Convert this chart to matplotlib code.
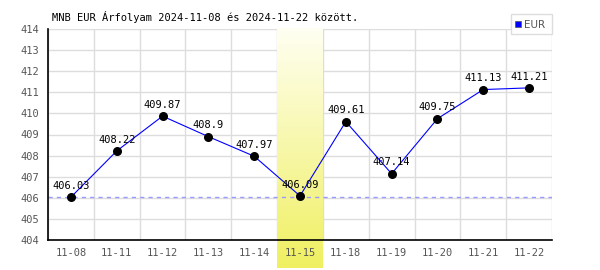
import numpy as np
import matplotlib.pyplot as plt
from matplotlib.patches import Rectangle

# =========================
# DATA
# =========================
dates = ["11-08", "11-11", "11-12", "11-13", "11-14", "11-15",
         "11-18", "11-19", "11-20", "11-21", "11-22"]
rates = [406.03, 408.22, 409.87, 408.9, 407.97, 406.09,
         409.61, 407.14, 409.75, 411.13, 411.21]
rate_labels = ["406.03", "408.22", "409.87", "408.9", "407.97", "406.09",
               "409.61", "407.14", "409.75", "411.13", "411.21"]
highlight_date = "11-15"
title = "MNB EUR Árfolyam 2024-11-08 és 2024-11-22 között."

plt.rcParams["font.family"] = ["DejaVu Sans Mono"]

fig = plt.figure(figsize=(6, 2.7), dpi=100)
ax = fig.add_axes([48 / 600, 1 - 240 / 270, 504 / 600, 211 / 270])

x = np.arange(len(dates))

# grid
for b in np.arange(-0.5, len(dates) + 0.5, 1):
    ax.axvline(b, color="#dddddd", lw=1, zorder=1)
for yv in range(405, 415):
    ax.axhline(yv, color="#dddddd", lw=1, zorder=1)

# highlighted column with vertical gradient, running below the axis
hi = dates.index(highlight_date)
grad = np.linspace(0, 1, 256).reshape(-1, 1, 1)
top_c = np.array([1.0, 1.0, 0.95]).reshape(1, 1, 3)
bot_c = np.array([0.94, 0.94, 0.38]).reshape(1, 1, 3)
img = top_c + (bot_c - top_c) * grad
ax.imshow(img, extent=(hi - 0.5, hi + 0.5, 404 - 28 / 21.1, 414),
          aspect="auto", origin="upper", zorder=1.5, clip_on=False)
ax.set_xlim(-0.5, len(dates) - 0.5)
ax.set_ylim(404, 414)

ax.axhline(rates[0], color="#9999ff", lw=1, ls=(0, (3, 3)), zorder=2)

ax.plot(x, rates, color="blue", lw=0.8, zorder=3)
ax.scatter(x, rates, s=30, color="black", zorder=4)
for xi, yi, lab in zip(x, rates, rate_labels):
    ax.text(xi, yi + 0.3, lab, ha="center", va="bottom", fontsize=7.5,
            color="black", zorder=5)

for side in ["top", "right"]:
    ax.spines[side].set_visible(False)
ax.spines["left"].set_linewidth(1.2)
ax.spines["bottom"].set_linewidth(1.2)
ax.spines["left"].set_zorder(6)
ax.spines["bottom"].set_zorder(6)

ax.set_xticks(x)
ax.set_xticklabels(dates)
ax.set_yticks(range(404, 415))
ax.tick_params(length=0, labelsize=7.5, labelcolor="#555555", pad=6)

fig.text(52 / 600, 1 - 17 / 270, title, fontsize=7.5, va="center", ha="left")

# legend box
lx0, ly0, lw, lh = 511 / 600, 1 - 34 / 270, 41 / 600, 20 / 270
fig.patches.append(Rectangle((lx0, ly0), lw, lh, transform=fig.transFigure,
                             facecolor="white", edgecolor="#dddddd", lw=1, zorder=10))
fig.patches.append(Rectangle((515 / 600, 1 - 27 / 270), 6 / 600, 6 / 270,
                             transform=fig.transFigure, facecolor="blue",
                             edgecolor="#555555", lw=0.5, zorder=11))
fig.text(524 / 600, 1 - 24.5 / 270, "EUR", fontsize=7.5, color="#555555",
         va="center", ha="left", family="DejaVu Sans", zorder=12)

fig.savefig("out.png", dpi=100)
